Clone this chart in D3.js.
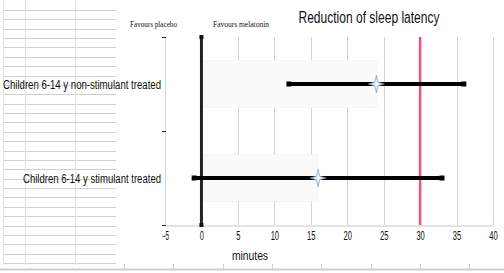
<!DOCTYPE html>
<html>
<head>
<meta charset="utf-8">
<script src="https://cdn.jsdelivr.net/npm/d3@7"></script>
<style>
  body { margin: 0; background: #fff; }
  svg { display: block; }
</style>
</head>
<body>
<script>
// chart values
var categories = ["Children 6-14 y non-stimulant treated", "Children 6-14 y stimulant treated"];
var categoryWidths = [158, 138]; // the source font is condensed
var means = [24, 16];
var lower = [12, -1];
var upper = [36, 33];
var xTicks = [-5, 0, 5, 10, 15, 20, 25, 30, 35, 40];
var refValue = 30;

var w = 504, h = 273;
var plot = { left: 165, right: 493, top: 37, bottom: 225 };
var sans = "'Liberation Sans', Arial, sans-serif";

var svg = d3.select("body").append("svg")
    .attr("width", w)
    .attr("height", h);

// spreadsheet behind the chart object
var bg = svg.append("g");
for (var i = 0; i < 28; i++) {
    var yy = Math.round(10 + i * 9.37) + 0.5;
    bg.append("line").attr("x1", 3).attr("x2", 116).attr("y1", yy).attr("y2", yy)
        .attr("stroke", "#cfcfcf");
}
[25.5, 75.5].forEach(function (xx) {
    bg.append("line").attr("x1", xx).attr("x2", xx).attr("y1", 0).attr("y2", 265)
        .attr("stroke", "#e2e2e2");
});
bg.append("line").attr("x1", 3.5).attr("x2", 3.5).attr("y1", 0).attr("y2", 265)
    .attr("stroke", "#e6e6e6");
bg.append("line").attr("x1", 0).attr("x2", w).attr("y1", 269.5).attr("y2", 269.5)
    .attr("stroke", "#cfcfcf").attr("stroke-width", 2);
for (var k = 0; k < 8; k++) {
    var cx = Math.round(124 + k * 49.3) + 0.5;
    bg.append("line").attr("x1", cx).attr("x2", cx).attr("y1", 264).attr("y2", 269)
        .attr("stroke", "#d0d0d0");
}

var x = d3.scaleLinear().domain([-5, 40]).range([plot.left, plot.right]);
var y = d3.scaleBand().domain(categories).range([plot.top, plot.bottom]);

// vertical gridlines
svg.append("g").selectAll("line")
    .data(xTicks)
    .enter()
    .append("line")
    .attr("x1", function (d) { return Math.round(x(d)) + 0.5; })
    .attr("x2", function (d) { return Math.round(x(d)) + 0.5; })
    .attr("y1", plot.top)
    .attr("y2", plot.bottom)
    .attr("stroke", "#d4d4d4");

// bottom axis
var xAxis = svg.append("g")
    .attr("transform", "translate(0," + (plot.bottom + 0.5) + ")")
    .call(d3.axisBottom(x).tickValues(xTicks).tickSize(0).tickPadding(6));
xAxis.select(".domain").attr("stroke", "#c8c8c8");
xAxis.selectAll("text")
    .attr("font-family", sans)
    .attr("font-size", 12)
    .attr("fill", "#111")
    .attr("textLength", function (d) { return String(Math.abs(d)).length * 4.2 + (d < 0 ? 3 : 0); })
    .attr("lengthAdjust", "spacingAndGlyphs");

// left axis ticks at band edges
var edges = [plot.top, plot.top + y.step(), plot.bottom];
svg.append("g").selectAll("line")
    .data(edges)
    .enter()
    .append("line")
    .attr("x1", plot.left - 3)
    .attr("x2", plot.left + 1)
    .attr("y1", function (d) { return d + 0.5; })
    .attr("y2", function (d) { return d + 0.5; })
    .attr("stroke", "#222");

// faint bars behind the intervals
svg.append("g").selectAll("rect")
    .data(categories)
    .enter()
    .append("rect")
    .attr("x", x(0))
    .attr("y", function (d) { return y(d) + y.bandwidth() * 0.25; })
    .attr("width", function (d, i) { return x(means[i]) - x(0); })
    .attr("height", y.bandwidth() * 0.5)
    .attr("fill", "#fafafa")
    .attr("stroke", "#e6e6e6")
    .attr("stroke-width", 0.6)
    .attr("stroke-dasharray", "1,1");

// zero line
svg.append("line")
    .attr("x1", x(0)).attr("x2", x(0))
    .attr("y1", plot.top).attr("y2", plot.bottom)
    .attr("stroke", "#222")
    .attr("stroke-width", 3);
[plot.top, plot.bottom].forEach(function (d) {
    svg.append("rect").attr("x", x(0) - 2).attr("y", d - 2)
        .attr("width", 4).attr("height", 4).attr("fill", "#111");
});

// reference line
svg.append("line")
    .attr("x1", x(refValue)).attr("x2", x(refValue))
    .attr("y1", plot.top).attr("y2", plot.bottom)
    .attr("stroke", "#f2507c")
    .attr("stroke-width", 2.5);

// confidence intervals
var ci = svg.append("g");
categories.forEach(function (c, i) {
    var cy = y(c) + y.bandwidth() / 2;
    ci.append("line")
        .attr("x1", x(lower[i])).attr("x2", x(upper[i]))
        .attr("y1", cy).attr("y2", cy)
        .attr("stroke", "#000")
        .attr("stroke-width", 4);
    [lower[i], upper[i]].forEach(function (v) {
        ci.append("rect")
            .attr("x", x(v) - 2.5).attr("y", cy - 2.5)
            .attr("width", 5).attr("height", 5)
            .attr("fill", "#000");
    });
});

// star markers
var grad = svg.append("defs").append("radialGradient").attr("id", "starfill");
grad.append("stop").attr("offset", "0%").attr("stop-color", "#ffffff");
grad.append("stop").attr("offset", "100%").attr("stop-color", "#9bb6cc");

function starPath(cx, cy) {
    var hw = 8, hh = 9, r = 1.8;
    return "M" + cx + "," + (cy - hh) +
        "L" + (cx + r) + "," + (cy - r) +
        "L" + (cx + hw) + "," + cy +
        "L" + (cx + r) + "," + (cy + r) +
        "L" + cx + "," + (cy + hh) +
        "L" + (cx - r) + "," + (cy + r) +
        "L" + (cx - hw) + "," + cy +
        "L" + (cx - r) + "," + (cy - r) + "Z";
}

svg.append("g").selectAll("path")
    .data(categories)
    .enter()
    .append("path")
    .attr("d", function (d, i) { return starPath(x(means[i]), y(d) + y.bandwidth() / 2); })
    .attr("fill", "url(#starfill)")
    .attr("stroke", "#8aa3b8")
    .attr("stroke-width", 0.6);

// category labels
svg.append("g").selectAll("text")
    .data(categories)
    .enter()
    .append("text")
    .attr("x", 161)
    .attr("y", function (d) { return y(d) + y.bandwidth() / 2 + 4.5; })
    .attr("text-anchor", "end")
    .attr("font-family", sans)
    .attr("font-size", 12)
    .attr("fill", "#111")
    .attr("textLength", function (d, i) { return categoryWidths[i]; })
    .attr("lengthAdjust", "spacingAndGlyphs")
    .text(function (d) { return d; });

// title and side notes
svg.append("text")
    .attr("x", 369).attr("y", 23)
    .attr("text-anchor", "middle")
    .attr("font-family", sans)
    .attr("font-size", 16)
    .attr("fill", "#111")
    .attr("textLength", 141)
    .attr("lengthAdjust", "spacingAndGlyphs")
    .text("Reduction of sleep latency");

svg.append("text")
    .attr("x", 153.5).attr("y", 27)
    .attr("text-anchor", "middle")
    .attr("font-family", "'Liberation Serif', 'Times New Roman', serif")
    .attr("font-size", 7.5)
    .attr("fill", "#111")
    .attr("textLength", 47)
    .attr("lengthAdjust", "spacingAndGlyphs")
    .text("Favours placebo");

svg.append("text")
    .attr("x", 241).attr("y", 27)
    .attr("text-anchor", "middle")
    .attr("font-family", "'Liberation Serif', 'Times New Roman', serif")
    .attr("font-size", 7.5)
    .attr("fill", "#111")
    .attr("textLength", 56)
    .attr("lengthAdjust", "spacingAndGlyphs")
    .text("Favours melatonin");

svg.append("text")
    .attr("x", 250).attr("y", 260)
    .attr("text-anchor", "middle")
    .attr("font-family", sans)
    .attr("font-size", 13)
    .attr("fill", "#111")
    .attr("textLength", 36)
    .attr("lengthAdjust", "spacingAndGlyphs")
    .text("minutes");
</script>
</body>
</html>
